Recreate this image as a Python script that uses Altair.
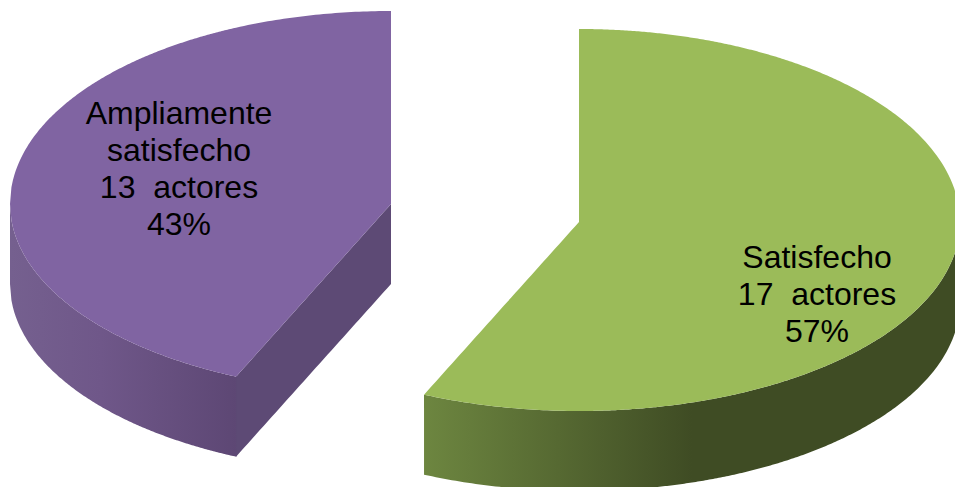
import altair as alt
import numpy as np
import pandas as pd

# Survey result: how many actors fall in each satisfaction category
categories = ["Ampliamente satisfecho", "Satisfecho"]
actors = [13, 17]
percent_labels = ["43%", "57%"]

# Non-breaking spaces keep the double gap before "actores" when rendered to SVG
label_lines = [
    ["Ampliamente", "satisfecho", "13\u00a0\u00a0actores", "43%"],
    ["Satisfecho", "17\u00a0\u00a0actores", "57%"],
]

W, H = 955, 487
RX = 381            # horizontal radius of the tilted pie
RY_BACK = 193       # far half of the ellipse
RY_FRONT = 189      # near half of the ellipse
DEPTH = 80          # extruded thickness
CENTER = {"Ampliamente satisfecho": (391, 204), "Satisfecho": (579, 222)}

total = sum(actors)
split = 2 * np.pi * actors[1] / total  # clockwise sweep of the green slice from 12 o'clock


def rim_lower(cx, cy, x):
    return cy + RY_FRONT * np.sqrt(np.clip(1 - ((x - cx) / RX) ** 2, 0, 1))


def rim_upper(cx, cy, x):
    return cy - RY_BACK * np.sqrt(np.clip(1 - ((x - cx) / RX) ** 2, 0, 1))


# Where the slice boundary meets the front rim (same for both slices, relative to centre)
cut_dx = RX * np.sin(split)
cut_dy = -RY_FRONT * np.cos(split)


def cut_line(cx, cy, x):
    return cy + (x - cx) * cut_dy / cut_dx


# Purple slice: left of its centre
cx, cy = CENTER[categories[0]]
xs_rim = np.linspace(cx - RX, cx + cut_dx, 160)
xs_cut = np.linspace(cx + cut_dx, cx, 40)
purple_top = pd.DataFrame({
    "x": np.r_[xs_rim, xs_cut],
    "y": np.r_[rim_upper(cx, cy, xs_rim), rim_upper(cx, cy, xs_cut)],
    "y2": np.r_[rim_lower(cx, cy, xs_rim), cut_line(cx, cy, xs_cut)],
})
purple_top = purple_top.sort_values("x", kind="stable")
# The rim runs one pixel under the cut face so no seam shows between them
overlap_x = cx + cut_dx + 1
purple_rim = pd.DataFrame({
    "x": np.r_[xs_rim, overlap_x],
    "y": np.r_[rim_lower(cx, cy, xs_rim), cut_line(cx, cy, overlap_x)],
    "y2": np.r_[rim_lower(cx, cy, xs_rim) + DEPTH, cut_line(cx, cy, overlap_x) + DEPTH],
})
xs = np.sort(xs_cut)
purple_cut = pd.DataFrame({
    "x": xs,
    "y": cut_line(cx, cy, xs),
    "y2": cut_line(cx, cy, xs) + DEPTH,
})

# Green slice: sweeps clockwise from 12 o'clock past the bottom
cx, cy = CENTER[categories[1]]
xs_left = np.sort(np.linspace(cx + cut_dx, cx, 40))
xs_right = np.linspace(cx, cx + RX, 200)
green_top = pd.concat([
    pd.DataFrame({"x": xs_left, "y": cut_line(cx, cy, xs_left), "y2": rim_lower(cx, cy, xs_left)}),
    pd.DataFrame({"x": xs_right, "y": rim_upper(cx, cy, xs_right), "y2": rim_lower(cx, cy, xs_right)}),
])
xs = np.r_[xs_left, xs_right]
green_rim = pd.DataFrame({
    "x": xs,
    "y": rim_lower(cx, cy, xs),
    "y2": rim_lower(cx, cy, xs) + DEPTH,
})

x_enc = alt.X("x:Q", axis=None, scale=alt.Scale(domain=[0, W], nice=False, zero=False))
y_enc = alt.Y("y:Q", axis=None, scale=alt.Scale(domain=[H, 0], nice=False, zero=False))


def face(df, color):
    return (
        alt.Chart(df)
        .mark_area(color=color, clip=True, interpolate="linear", opacity=1)
        .encode(x=x_enc, y=y_enc, y2="y2:Q")
    )


purple_grad = alt.Gradient(
    gradient="linear", x1=0, x2=1, y1=0, y2=0,
    stops=[
        alt.GradientStop(offset=0, color="#75608f"),
        alt.GradientStop(offset=0.4, color="#6f5789"),
        alt.GradientStop(offset=1, color="#5d4774"),
    ],
)
green_grad = alt.Gradient(
    gradient="linear", x1=0, x2=1, y1=0, y2=0,
    stops=[
        alt.GradientStop(offset=0, color="#6d8640"),
        alt.GradientStop(offset=0.5, color="#3f4c24"),
        alt.GradientStop(offset=1, color="#3f4c24"),
    ],
)

text_rows = []
for lines, x0, y0 in zip(label_lines, (179, 817), (124, 268)):
    for i, line in enumerate(lines):
        text_rows.append({"x": x0, "y": y0 + 37 * i, "t": line})

labels = (
    alt.Chart(pd.DataFrame(text_rows))
    .mark_text(font="Liberation Sans", fontSize=32, color="#000000", align="center", baseline="alphabetic")
    .encode(x=x_enc, y=y_enc, text="t:N")
)

chart = (
    alt.layer(
        face(purple_rim, purple_grad),
        face(purple_cut, "#5d4a75"),
        face(purple_top, "#8064a2"),
        face(green_rim, green_grad),
        face(green_top, "#9bbb59"),
        labels,
    )
    .properties(width=W, height=H, padding=0, autosize=alt.AutoSizeParams(type="fit", contains="padding"))
    .configure_view(stroke=None)
)

chart.save("out.html", embed_options={"renderer": "svg", "actions": False})
